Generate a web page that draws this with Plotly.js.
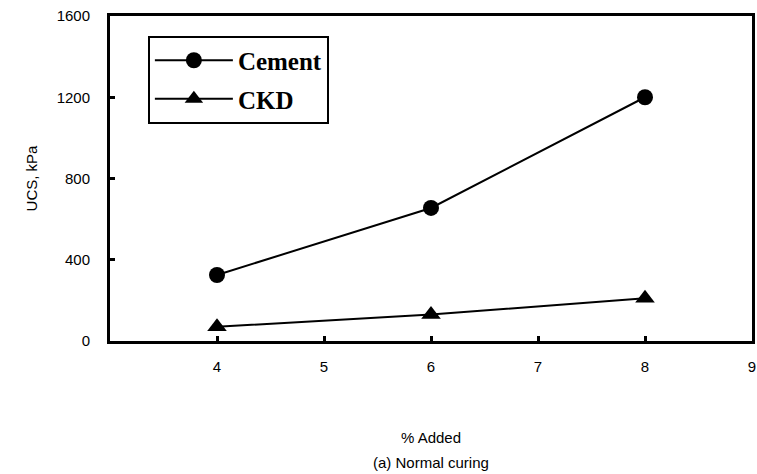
<!DOCTYPE html>
<html>
<head>
<meta charset="utf-8">
<script src="https://cdn.plot.ly/plotly-3.0.1.min.js"></script>
<style>html,body{margin:0;padding:0;background:#fff;}#chart{width:757px;height:474px;}</style>
</head>
<body>
<div id="chart"></div>
<script>
const percentAdded = [4, 6, 8];
const cementUCS = [325, 655, 1200];
const ckdUCS = [70, 130, 210];
const xTicks = [4, 5, 6, 7, 8, 9];
const yTicks = [0, 400, 800, 1200, 1600];

const traces = [
  {x: percentAdded, y: cementUCS, name: 'Cement', mode: 'lines+markers', legendgroup: 'a',
   line: {color: '#000', width: 2}, marker: {symbol: 'circle', size: 16, color: '#000'}},
  {x: percentAdded, y: ckdUCS, name: 'CKD', mode: 'lines+markers', legendgroup: 'b',
   line: {color: '#000', width: 2}, marker: {symbol: 'triangle-up', size: 17, color: '#000'}}
];

const layout = {
  width: 757, height: 474,
  margin: {l: 110, r: 5, t: 16, b: 133},
  paper_bgcolor: '#fff', plot_bgcolor: '#fff',
  font: {family: 'Liberation Sans, Arial, sans-serif', color: '#000', size: 15},
  showlegend: true,
  legend: {x: 0.059, y: 0.94, xanchor: 'left', yanchor: 'top',
    bordercolor: '#000', borderwidth: 2, bgcolor: '#fff',
    font: {family: 'Liberation Serif, Times New Roman, serif', size: 25, color: '#000', weight: 'bold'},
    itemwidth: 78, traceorder: 'grouped', tracegroupgap: 3},
  xaxis: {range: [3, 9], tickvals: xTicks, ticktext: xTicks.map(String),
    showgrid: false, zeroline: false, showline: true, linecolor: '#000', linewidth: 3,
    mirror: true, ticks: 'inside', ticklen: 5, tickwidth: 3, tickcolor: '#000',
    tickfont: {size: 15}, ticklabelstandoff: 10,
    title: {text: '% Added', font: {size: 15}, standoff: 59}},
  yaxis: {range: [0, 1600], tickvals: yTicks, ticktext: yTicks.map(String),
    showgrid: false, zeroline: false, showline: true, linecolor: '#000', linewidth: 3,
    mirror: true, ticks: 'inside', ticklen: 5, tickwidth: 3, tickcolor: '#000',
    tickfont: {size: 15}, ticklabelstandoff: 14,
    title: {text: 'UCS, kPa', font: {size: 15}, standoff: 16}},
  annotations: [{text: '(a) Normal curing', xref: 'paper', yref: 'paper',
    x: 0.5, y: 0, xanchor: 'center', yanchor: 'middle', yshift: -121,
    showarrow: false, font: {size: 15}}]
};

Plotly.newPlot('chart', traces, layout, {displayModeBar: false, staticPlot: true});
</script>
</body>
</html>
